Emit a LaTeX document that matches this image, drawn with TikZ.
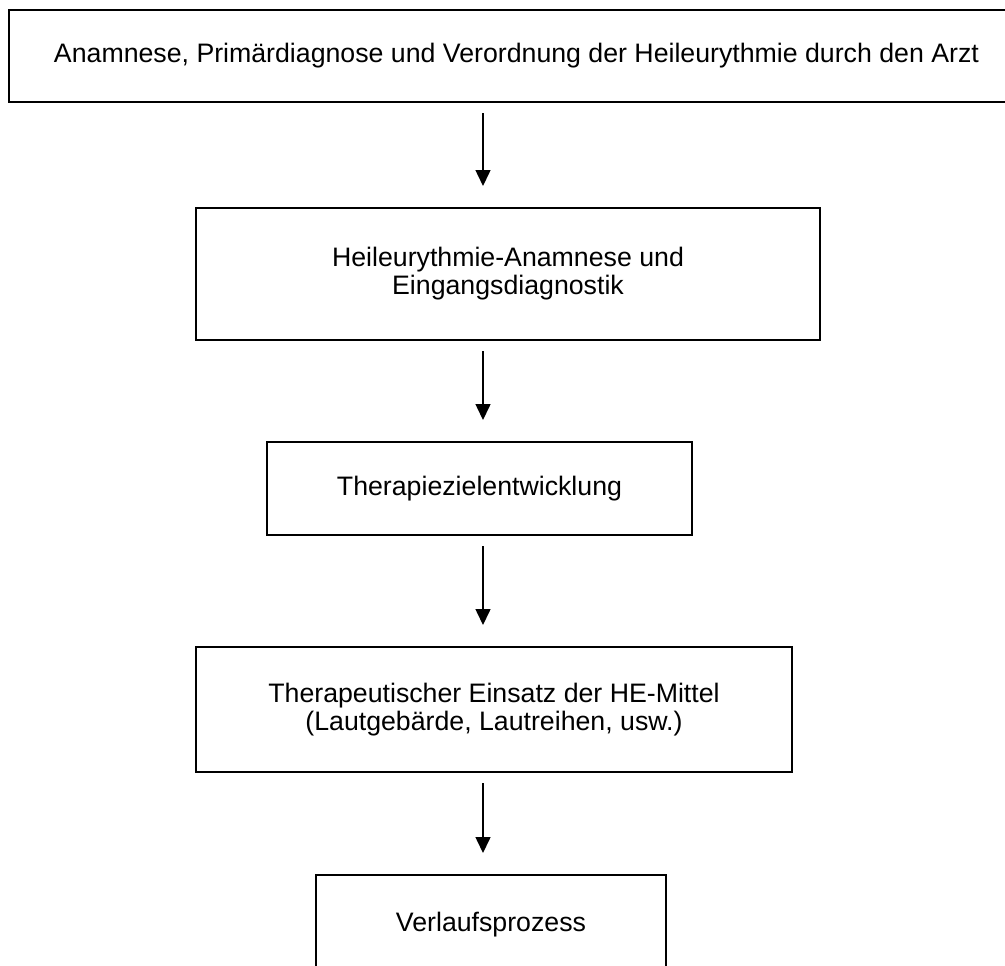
\documentclass[tikz,border=0pt]{standalone}
\usepackage{fontspec}
\setmainfont{Liberation Sans}
\usetikzlibrary{arrows.meta}

\begin{document}
\begin{tikzpicture}
	[%
	box/.style ={rectangle,	draw=black,	line width=0.04cm,	inner sep=0pt,	align=center,	font=\fontsize{15.2}{16}\selectfont},%
	flow/.style={-{Triangle[width=0.3cm,length=0.32cm]},	line width=0.03cm,	shorten <=0.2cm,	shorten >=0.42cm},%
	]

	\newcommand{\xarrow}{9.66}
	\useasboundingbox (0,0) rectangle (20.1,-19.3);
	\coordinate (axis) at (\xarrow,0);

	% nodes
	\node (arzt)		at (10.33,-1.12)	[box, minimum width=20.3cm,	minimum height=1.84cm]	{Anamnese, Primärdiagnose und Verordnung der Heileurythmie durch den Arzt};
	\node (anamnese)	at (10.16,-5.48)	[box, minimum width=12.48cm,	minimum height=2.64cm]	{Heileurythmie-Anamnese und\\Eingangsdiagnostik};
	\node (ziel)		at (9.59,-9.77)		[box, minimum width=8.5cm,	minimum height=1.86cm]	{Therapiezielentwicklung};
	\node (einsatz)		at (9.88,-14.19)	[box, minimum width=11.92cm,	minimum height=2.5cm]	{Therapeutischer Einsatz der HE-Mittel\\(Lautgebärde, Lautreihen, usw.)};
	\node (verlauf)		at (9.82,-18.5)		[box, minimum width=7.0cm,	minimum height=2.0cm]	{Verlaufsprozess};

	% interconnections
	\foreach \a/\b in {arzt/anamnese, anamnese/ziel, ziel/einsatz, einsatz/verlauf}%
		\draw [flow] (\a.south -| axis) -- (\b.north -| axis);

\end{tikzpicture}
\end{document}
